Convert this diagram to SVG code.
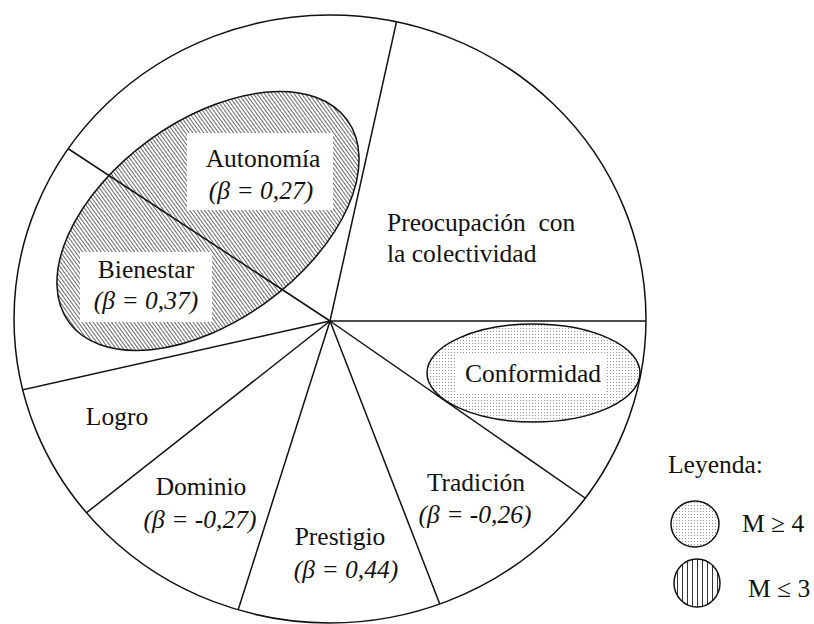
<svg xmlns="http://www.w3.org/2000/svg" width="814" height="624" viewBox="0 0 814 624">
  <style>
    .ln { fill: none; stroke: #111; stroke-width: 1.5; }
    .lbl { font-family: 'Liberation Serif', 'Times New Roman', serif; font-size: 25.5px; fill: #111; }
    .it { font-style: italic; }
    .mid { text-anchor: middle; }
    .box { fill: #fff; stroke: none; }
  </style>
  <defs>
    <pattern id="hatch" width="3" height="10" patternUnits="userSpaceOnUse">
      <rect width="3" height="10" fill="#fff"/>
      <rect x="1" y="0" width="1" height="10" fill="#6a6a6a" shape-rendering="crispEdges"/>
    </pattern>
    <pattern id="hatchWide" width="5" height="10" patternUnits="userSpaceOnUse">
      <rect width="5" height="10" fill="#fff"/>
      <rect x="2" y="0" width="1" height="10" fill="#333" shape-rendering="crispEdges"/>
    </pattern>
    <pattern id="dots" width="3" height="3" patternUnits="userSpaceOnUse">
      <rect width="3" height="3" fill="#fff"/>
      <rect x="1" y="1" width="1" height="1" fill="#999"/>
    </pattern>
    <clipPath id="disc">
      <ellipse cx="330" cy="319" rx="316" ry="304"/>
    </clipPath>
  </defs>

  <rect width="814" height="624" fill="#fff"/>

  <!-- outer circle -->
  <g id="circle">
    <ellipse class="ln" cx="330" cy="319" rx="316" ry="304"/>
  </g>

  <!-- shaded regions -->
  <g id="region-low">
    <ellipse cx="208" cy="221" rx="172" ry="100" transform="rotate(-36 208 221)" fill="url(#hatch)" stroke="#111" stroke-width="1.5"/>
  </g>
  <g id="region-high">
    <ellipse cx="533.5" cy="373" rx="106.5" ry="49" fill="url(#dots)" stroke="#111" stroke-width="1.5"/>
  </g>

  <!-- sector dividers -->
  <g id="connectors" clip-path="url(#disc)">
    <line class="ln" x1="330" y1="321" x2="400" y2="6"/>
    <line class="ln" x1="330" y1="321" x2="660" y2="321"/>
    <line class="ln" x1="330" y1="321" x2="598" y2="507"/>
    <line class="ln" x1="330" y1="321" x2="446" y2="620"/>
    <line class="ln" x1="330" y1="321" x2="233" y2="626"/>
    <line class="ln" x1="330" y1="321" x2="76" y2="521"/>
    <line class="ln" x1="330" y1="321" x2="8" y2="393"/>
    <line class="ln" x1="330" y1="321" x2="55" y2="140"/>
  </g>

  <g id="autonomia">
    <rect class="box" x="187" y="133" width="146" height="77"/>
    <text class="lbl mid" x="263" y="167">Autonomía</text>
    <text class="lbl mid it" x="261" y="199">(β = 0,27)</text>
  </g>
  <g id="bienestar">
    <rect class="box" x="80" y="252" width="132" height="70"/>
    <text class="lbl mid" x="146" y="278">Bienestar</text>
    <text class="lbl mid it" x="146" y="309">(β = 0,37)</text>
  </g>
  <g id="preocupacion">
    <text class="lbl" x="387" y="231" xml:space="preserve">Preocupación  con</text>
    <text class="lbl" x="387" y="262">la colectividad</text>
  </g>
  <g id="conformidad">
    <rect class="box" x="455" y="353" width="150" height="39"/>
    <text class="lbl mid" x="533" y="382">Conformidad</text>
  </g>
  <g id="logro">
    <text class="lbl mid" x="117" y="425">Logro</text>
  </g>
  <g id="dominio">
    <text class="lbl mid" x="201" y="495">Dominio</text>
    <text class="lbl mid it" x="200" y="528">(β = -0,27)</text>
  </g>
  <g id="prestigio">
    <text class="lbl mid" x="340" y="545">Prestigio</text>
    <text class="lbl mid it" x="346" y="578">(β = 0,44)</text>
  </g>
  <g id="tradicion">
    <text class="lbl mid" x="476" y="491">Tradición</text>
    <text class="lbl mid it" x="475" y="523">(β = -0,26)</text>
  </g>
  <g id="legend">
    <text class="lbl" x="668" y="473">Leyenda:</text>
    <ellipse cx="695" cy="524" rx="24" ry="23" fill="url(#dots)" stroke="#111" stroke-width="1.5"/>
    <text class="lbl" x="742" y="532">M ≥ 4</text>
    <ellipse cx="697" cy="583" rx="23" ry="24" fill="url(#hatchWide)" stroke="#111" stroke-width="1.5"/>
    <text class="lbl" x="748" y="597">M ≤ 3</text>
  </g>
</svg>
